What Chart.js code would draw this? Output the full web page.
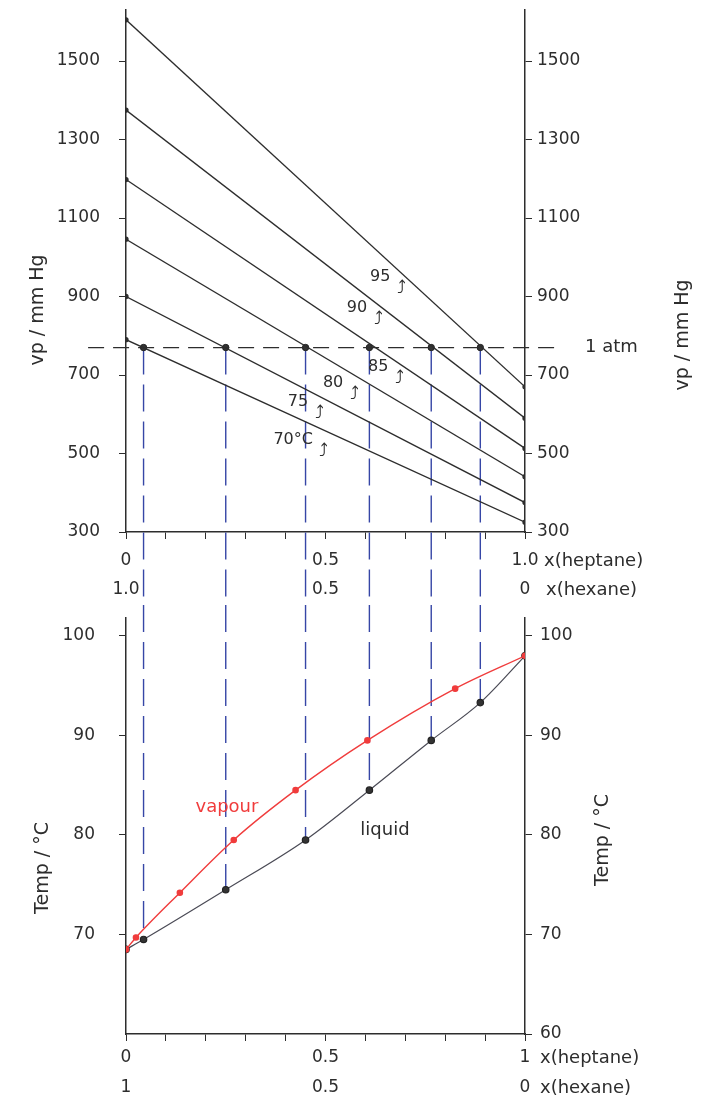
<!DOCTYPE html>
<html>
<head>
<meta charset="utf-8">
<title>Hexane / heptane: vapour pressure and boiling diagram</title>
<script src="https://cdn.jsdelivr.net/npm/chart.js@4.4.1/dist/chart.umd.min.js"></script>
<style>
  html, body { margin: 0; padding: 0; background: #fff; }
  canvas { position: absolute; left: 0; }
  #vpChart { top: 0; }
  #tempChart { top: 605px; }
</style>
</head>
<body>
<canvas id="vpChart" width="723" height="605"></canvas>
<canvas id="tempChart" width="723" height="503"></canvas>
<script>
// values
const isotherms = ['70°C', '75', '80', '85', '90', '95'];
const vpHexane = [790, 900, 1046, 1198, 1375, 1605];   // vp at x(heptane) = 0
const vpHeptane = [325, 375, 441, 513, 590, 670];      // vp at x(heptane) = 1
const atmLine = 770;
const bubbleX = [0.044, 0.25, 0.45, 0.61, 0.765, 0.888];
const vpTicks = [300, 500, 700, 900, 1100, 1300, 1500];

const liquidX = [0, ...bubbleX, 1];
const liquidT = [68.5, 69.5, 74.5, 79.5, 84.5, 89.5, 93.3, 98];
const vapourX = [0, 0.025, 0.135, 0.27, 0.425, 0.605, 0.825, 1];
const vapourT = [68.5, 69.7, 74.2, 79.5, 84.5, 89.5, 94.7, 98];
const tempTicksLeft = [70, 80, 90, 100];
const tempTicksRight = [60, 70, 80, 90, 100];

const xLabelAt = [0, 0.5, 1];
const topHeptane = ['0', '0.5', '1.0'];
const topHexane = ['1.0', '0.5', '0'];
const lowHeptane = ['0', '0.5', '1'];
const lowHexane = ['1', '0.5', '0'];

// where the isotherm names sit (x(heptane), vp)
const noteX = [0.419, 0.431, 0.519, 0.632, 0.579, 0.637];
const noteVp = [534, 631, 680, 720, 871, 950];

const INK = '#2d2d2d', BLUE = '#3646a6', RED = '#f03c3c';
const FONT = "'DejaVu Sans', sans-serif";
Chart.defaults.font.family = FONT;
Chart.defaults.color = INK;

function yAxis(position, ticks, min, max, width, pad) {
  return {
    type: 'linear', position, min, max,
    afterBuildTicks: s => { s.ticks = ticks.map(v => ({ value: v })); },
    afterFit: s => { s.width = width; s.paddingTop = 0; s.paddingBottom = 0; },
    ticks: { padding: pad, font: { size: 17 }, callback: v => String(v) },
    grid: { drawOnChartArea: false, color: INK, tickLength: 7 },
    border: { color: INK, width: 1.5 }
  };
}

function xAxis(hep, hex, height, pad, lh) {
  return {
    type: 'linear', min: 0, max: 1,
    afterFit: s => { s.height = height; s.paddingLeft = 0; s.paddingRight = 0; },
    ticks: {
      stepSize: 0.1, padding: pad, maxRotation: 0, autoSkip: false,
      font: { size: 17, lineHeight: lh },
      callback: v => {
        const i = xLabelAt.findIndex(t => Math.abs(t - v) < 1e-6);
        return i < 0 ? '' : [hep[i], hex[i]];
      }
    },
    grid: { drawOnChartArea: false, color: INK, tickLength: 7 },
    border: { color: INK, width: 1.5 }
  };
}

function text(ctx, str, x, y, size, color, align, rot) {
  ctx.save();
  ctx.translate(x, y);
  ctx.rotate(rot || 0);
  ctx.font = size + 'px ' + FONT;
  ctx.fillStyle = color || INK;
  ctx.textAlign = align || 'center';
  ctx.textBaseline = 'middle';
  ctx.fillText(str, 0, 0);
  ctx.restore();
}

function dashedDrops(ctx, xs, y0, y1s) {
  ctx.save();
  ctx.strokeStyle = BLUE;
  ctx.lineWidth = 1.4;
  ctx.setLineDash([27, 10]);
  xs.forEach((px, i) => {
    ctx.beginPath();
    ctx.moveTo(px, y0);
    ctx.lineTo(px, y1s[i]);
    ctx.stroke();
  });
  ctx.restore();
}

const vpDecor = {
  id: 'vpDecor',
  beforeDatasetsDraw(chart) {
    const { ctx, scales: { x, y } } = chart;
    const xs = bubbleX.map(v => x.getPixelForValue(v));
    dashedDrops(ctx, xs, y.getPixelForValue(atmLine), xs.map(() => chart.height));
  },
  afterDatasetsDraw(chart) {
    const { ctx, chartArea: a, scales: { x, y } } = chart;
    isotherms.forEach((name, i) => {
      const px = x.getPixelForValue(noteX[i]), py = y.getPixelForValue(noteVp[i]);
      text(ctx, name, px, py, 16);
      ctx.font = '16px ' + FONT;
      const half = ctx.measureText(name).width / 2;
      text(ctx, '⤴', px + half + 11, py + 11, 18);
    });
    text(ctx, '1 atm', a.right + 60, y.getPixelForValue(atmLine), 18, INK, 'left');
    text(ctx, 'x(heptane)', a.right + 19, a.bottom + 29, 18, INK, 'left');
    text(ctx, 'x(hexane)', a.right + 21, a.bottom + 58, 18, INK, 'left');
    text(ctx, 'vp / mm Hg', a.left - 88, a.top + 300, 19, INK, 'center', -Math.PI / 2);
    text(ctx, 'vp / mm Hg', a.right + 158, a.top + 325, 19, INK, 'center', -Math.PI / 2);
  }
};

const tempDecor = {
  id: 'tempDecor',
  beforeDatasetsDraw(chart) {
    const { ctx, scales: { x, y } } = chart;
    const xs = bubbleX.map(v => x.getPixelForValue(v));
    const ends = bubbleX.map((v, i) => y.getPixelForValue(liquidT[i + 1]));
    dashedDrops(ctx, xs, 0, ends);
  },
  afterDatasetsDraw(chart) {
    const { ctx, chartArea: a, scales: { x, y } } = chart;
    text(ctx, 'vapour', x.getPixelForValue(0.253), y.getPixelForValue(82.8), 18, RED);
    text(ctx, 'liquid', x.getPixelForValue(0.649), y.getPixelForValue(80.5), 18, INK);
    text(ctx, 'x(heptane)', a.right + 15, a.bottom + 24, 18, INK, 'left');
    text(ctx, 'x(hexane)', a.right + 15, a.bottom + 54, 18, INK, 'left');
    text(ctx, 'Temp / °C', a.left - 83, a.top + 250, 19, INK, 'center', -Math.PI / 2);
    text(ctx, 'Temp / °C', a.right + 78, a.top + 222, 19, INK, 'center', -Math.PI / 2);
  }
};

const isoSets = isotherms.map((name, i) => ({
  label: name,
  data: [{ x: 0, y: vpHexane[i] }, { x: 1, y: vpHeptane[i] }],
  borderColor: INK, borderWidth: 1.3,
  pointRadius: 2, pointBackgroundColor: INK, pointBorderColor: INK
}));

new Chart(document.getElementById('vpChart'), {
  type: 'line',
  data: {
    datasets: [
      ...isoSets,
      {
        label: '1 atm',
        data: [{ x: -0.095, y: atmLine }, { x: 1.08, y: atmLine }],
        borderColor: INK, borderWidth: 1.3, borderDash: [16, 9],
        pointRadius: 0, clip: false
      },
      {
        label: 'boiling',
        data: bubbleX.map(v => ({ x: v, y: atmLine })),
        showLine: false, pointRadius: 3.2,
        pointBackgroundColor: '#333', pointBorderColor: '#222'
      }
    ]
  },
  options: {
    responsive: false,
    animation: false,
    layout: { padding: { top: 10 } },
    plugins: { legend: { display: false }, tooltip: { enabled: false } },
    scales: {
      x: xAxis(topHeptane, topHexane, 73, 7.5, '29px'),
      y: yAxis('left', vpTicks, 300, 1630, 126, 19),
      y2: yAxis('right', vpTicks, 300, 1630, 198, 5)
    }
  },
  plugins: [vpDecor]
});

new Chart(document.getElementById('tempChart'), {
  type: 'line',
  data: {
    datasets: [
      {
        label: 'vapour',
        data: vapourX.map((v, i) => ({ x: v, y: vapourT[i] })),
        borderColor: RED, borderWidth: 1.4, cubicInterpolationMode: 'monotone',
        pointRadius: 2.6, pointBackgroundColor: RED, pointBorderColor: RED
      },
      {
        label: 'liquid',
        data: liquidX.map((v, i) => ({ x: v, y: liquidT[i] })),
        borderColor: '#4a4a55', borderWidth: 1.2, cubicInterpolationMode: 'monotone',
        pointRadius: 3.2, pointBackgroundColor: '#333', pointBorderColor: '#222'
      }
    ]
  },
  options: {
    responsive: false,
    animation: false,
    layout: { padding: { top: 13 } },
    plugins: { legend: { display: false }, tooltip: { enabled: false } },
    scales: {
      x: xAxis(lowHeptane, lowHexane, 74, 2, '30px'),
      y: yAxis('left', tempTicksLeft, 60, 101.8, 126, 24),
      y2: yAxis('right', tempTicksRight, 60, 101.8, 198, 8)
    }
  },
  plugins: [tempDecor]
});
</script>
</body>
</html>
